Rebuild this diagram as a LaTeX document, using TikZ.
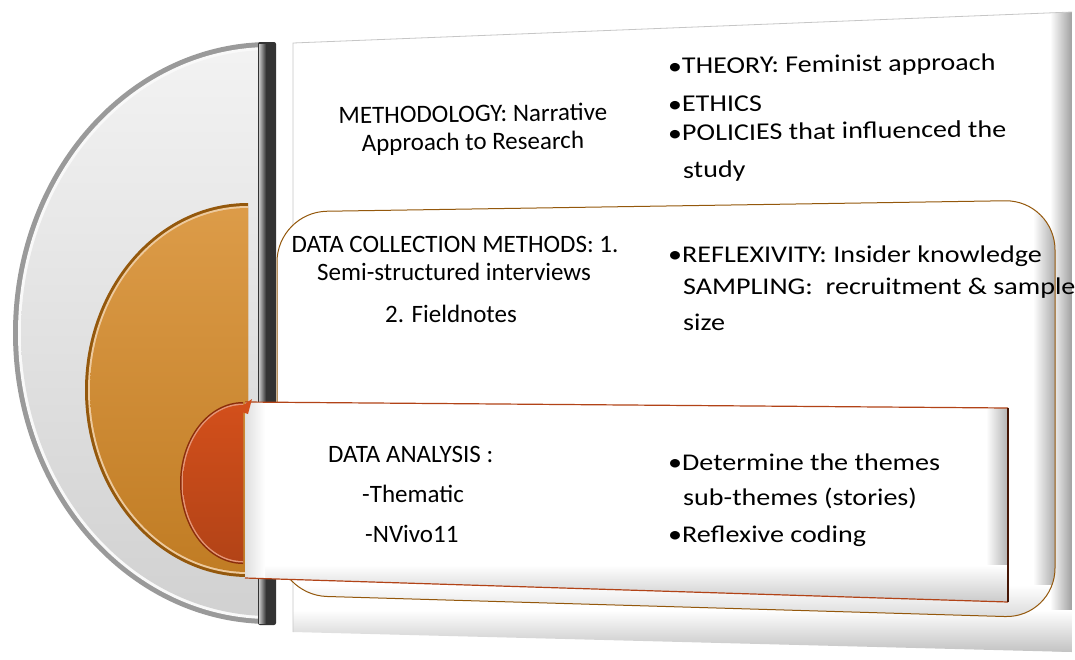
\documentclass[tikz,border=0pt]{standalone}
\usepackage{fontspec}
\setmainfont{Carlito}
\newfontfamily\widefont[FakeStretch=1.17]{Carlito}
\definecolor{rimgray}{HTML}{9A9A9A}
\definecolor{ochre}{HTML}{D68A28}
\definecolor{ochredark}{HTML}{94580C}
\definecolor{rust}{HTML}{D24F1B}
\definecolor{rustdark}{HTML}{8A2C0A}
\definecolor{bargray}{HTML}{333333}
\tikzstyle{heading} = [font={\fontsize{25}{30}\selectfont}, anchor=base, inner sep=0pt]
\tikzstyle{point} = [font={\widefont\fontsize{24}{28}\selectfont}, anchor=base west, inner sep=0pt]
\tikzstyle{tilted} = [rotate=0.7]

\begin{document}
\begin{tikzpicture}[x=1pt,y=-1pt]
        \useasboundingbox (0,0) rectangle (1075,659);
        % back panel
        \fill[white] (293,43) -- (1072,12) -- (1072,652) -- (293,632) -- cycle;
        \begin{scope}
          \clip (293,43) -- (1072,12) -- (1072,652) -- (293,632) -- cycle;
          \shade[left color=white, right color=gray!75] (1050,0) rectangle (1072,659);
          \shade[top color=white, bottom color=gray!55] (293,610) rectangle (1072,659);
        \end{scope}
        \draw[gray!45, line width=0.8] (293,632) -- (293,43) -- (1072,12);
        % grey half disc
        \begin{scope}
          \clip (0,0) rectangle (268,659);
          \fill[rimgray] (270,333) ellipse [x radius=257, y radius=291];
          \fill[gray!5] (270,333) ellipse [x radius=252, y radius=286];
          \shade[top color=gray!10, bottom color=gray!36] (270,333) ellipse [x radius=249, y radius=283];
        \end{scope}
        % orange half disc
        \begin{scope}
          \clip (0,0) rectangle (248,659);
          \fill[ochredark] (248,390) ellipse [x radius=163, y radius=187];
          \fill[ochre!45!white] (248,390) ellipse [x radius=160, y radius=184];
          \shade[top color=ochre!85!white, bottom color=ochre!90!black] (248,390) ellipse [x radius=158, y radius=182];
        \end{scope}
        % dark bar
        \fill[bargray, rounded corners=2] (258,42) rectangle (276,625);
        \shade[left color=gray!45, right color=bargray] (259,44) rectangle (266,623);
        % middle panel
        \fill[white, rounded corners=50] (277,212) -- (1055,200) -- (1055,618) -- (277,595) -- cycle;
        \begin{scope}
          \clip[rounded corners=50] (277,212) -- (1055,200) -- (1055,618) -- (277,595) -- cycle;
          \shade[left color=white, right color=gray!65] (1033,190) rectangle (1055,630);
          \shade[top color=white, bottom color=gray!40] (277,585) rectangle (1055,630);
        \end{scope}
        \draw[ochredark, line width=1, rounded corners=50] (277,212) -- (1055,200) -- (1055,618) -- (277,595) -- cycle;
        % bottom panel
        \fill[white] (245,402) -- (1008,408) -- (1008,602) -- (245,578) -- cycle;
        \begin{scope}
          \clip (245,402) -- (1008,408) -- (1008,602) -- (245,578) -- cycle;
          \shade[left color=white, right color=gray!60] (986,400) rectangle (1008,610);
          \shade[top color=white, bottom color=gray!50] (245,565) rectangle (1008,610);
          \shade[left color=gray!25, right color=white] (245,400) rectangle (265,610);
        \end{scope}
        \draw[rust!85!black, line width=1.2] (245,402) -- (1008,408);
        \draw[rust!85!black, line width=1.2] (245,578) -- (1008,602);
        \draw[rustdark!50!black, line width=2.5] (1008,408) -- (1008,602);
        % red half disc
        \begin{scope}
          \clip (0,0) rectangle (243,659);
          \fill[rustdark] (243,483) ellipse [x radius=63, y radius=81];
          \fill[rust!60!white] (243,483) ellipse [x radius=61.5, y radius=79.5];
          \shade[top color=rust, bottom color=rust!85!black] (243,483) ellipse [x radius=60, y radius=78];
        \end{scope}
        \fill[rust] (236,410) -- (252,399) -- (248,414) -- cycle;
        % texts, upper band
        \node[heading,tilted] (method1) at (473,122) {METHODOLOGY: Narrative};
        \node[heading,tilted] (method2) at (473,150) {Approach to Research};
        \node[point,tilted] (theory) at (668,74) {•THEORY: Feminist approach};
        \node[point,tilted] (ethics) at (668,112) {•ETHICS};
        \node[point,tilted] (policies) at (668,141) {•POLICIES that influenced the};
        \node[point,tilted] (study) at (683,178) {study};
        % texts, middle band
        \node[heading] (collect1) at (455,252) {DATA COLLECTION METHODS: 1.};
        \node[heading] (collect2) at (454,280) {Semi-structured interviews};
        \node[heading] (collect3) at (451,322) {2. Fieldnotes};
        \node[point] (reflex) at (668,262) {•REFLEXIVITY: Insider knowledge};
        \node[point] (sampling) at (683,294) {SAMPLING:\ \ recruitment \& sample};
        \node[point] (size) at (683,330) {size};
        % texts, lower band
        \node[heading, anchor=base west] (analysis) at (328,462) {DATA ANALYSIS :};
        \node[heading, anchor=base west] (thematic) at (362,502) {-Thematic};
        \node[heading, anchor=base west] (nvivo) at (365,542) {-NVivo11};
        \node[point] (themes) at (668,470) {•Determine the themes};
        \node[point] (subthemes) at (683,505) {sub-themes (stories)};
        \node[point] (coding) at (668,542) {•Reflexive coding};
      \end{tikzpicture}
\end{document}
